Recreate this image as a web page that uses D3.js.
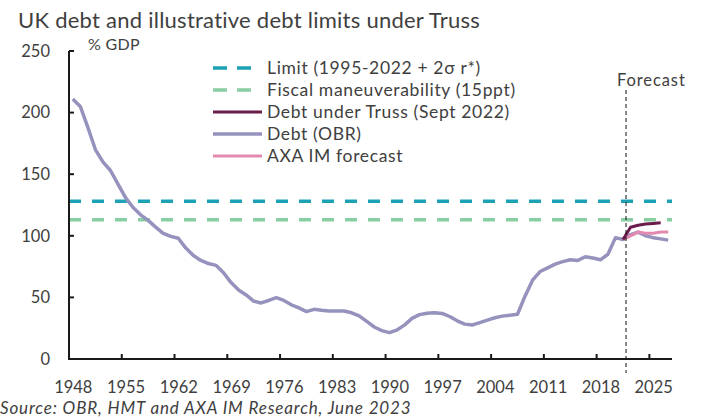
<!DOCTYPE html>
<html>
<head>
<meta charset="utf-8">
<script src="https://cdn.jsdelivr.net/npm/d3@7"></script>
<style>
  html, body { margin: 0; padding: 0; background: #fff; }
  svg { display: block; }
  text { font-family: Lato, "Noto Sans", sans-serif; fill: #404040; }
</style>
</head>
<body>
<svg id="chart" width="702" height="418"></svg>
<script>
// ---------------- data ----------------
const years = [1948,1949,1950,1951,1952,1953,1954,1955,1956,1957,1958,1959,1960,1961,1962,1963,1964,1965,1966,1967,
  1968,1969,1970,1971,1972,1973,1974,1975,1976,1977,1978,1979,1980,1981,1982,1983,1984,1985,1986,1987,
  1988,1989,1990,1991,1992,1993,1994,1995,1996,1997,1998,1999,2000,2001,2002,2003,2004,2005,2006,2007,
  2008,2009,2010,2011,2012,2013,2014,2015,2016,2017,2018,2019,2020,2021,2022,2023,2024,2025,2026,2027];
const debtOBR = [211,205,188,170,160,153,142,131,123,117,112.5,107,102,99.5,98,90,84,80,77.5,76,
  70,62,56,52,47,45.5,47.5,49.8,47.5,44,41.5,38.5,40.3,39.5,39,39,39,37.5,35,30.5,
  26,23,21.4,23.5,27.5,33,36,37.2,37.6,37,34.5,31,28.3,27.6,29.5,31.5,33.5,34.8,35.6,36.3,
  51,64,71,74,77,79,80.5,80,83,82,80.5,85,98.5,97,101,103,100,98.5,97.5,96.5];
const trussYears = [2021,2022,2023,2024,2025,2026];
const debtTruss  = [97,107,108.5,109.5,110,110.5];
const axaYears = [2021,2022,2023,2024,2025,2026,2027];
const axaForecast = [97,100,103,102,102,103,103];
const limitValue = 128;       // Limit (1995-2022 + 2σ r*)
const fiscalValue = 113;      // Fiscal maneuverability (15ppt)
const forecastStart = 2021.4;
const yTicks = [0,50,100,150,200,250];
const xLabelYears = [1948,1955,1962,1969,1976,1983,1990,1997,2004,2011,2018,2025];
const xTickBounds = [1954.5,1961.5,1968.5,1975.5,1982.5,1989.5,1996.5,2003.5,2010.5,2017.5,2024.5];

const titleText = "UK debt and illustrative debt limits under Truss";
const unitText = "% GDP";
const sourceText = "Source: OBR, HMT and AXA IM Research, June 2023";
const forecastText = "Forecast";

const legendItems = [
  {label: "Limit (1995-2022 + 2σ r*)", color: "#1ba3b5", dash: "12,11", width: 3.5},
  {label: "Fiscal maneuverability (15ppt)", color: "#88cea2", dash: "12,11", width: 3.5},
  {label: "Debt under Truss (Sept 2022)", color: "#6b1c4a", dash: null, width: 3},
  {label: "Debt (OBR)", color: "#9692be", dash: null, width: 3.5},
  {label: "AXA IM forecast", color: "#e389b0", dash: null, width: 3}
];

// ---------------- layout ----------------
const svg = d3.select("#chart");
const plotL = 69, plotR = 672, plotT = 51, plotB = 359;
const x = d3.scaleLinear().domain([1947.5, 2027.5]).range([plotL, plotR]);
const y = d3.scaleLinear().domain([0, 250]).range([plotB, plotT]);

// title
svg.append("text").attr("x", 18).attr("y", 28)
  .style("font-size", "22px").style("letter-spacing", "0.25px").text(titleText);

// horizontal limit lines
[[limitValue, legendItems[0]], [fiscalValue, legendItems[1]]].forEach(([v, it]) => {
  svg.append("line")
    .attr("x1", x(1947.5)).attr("x2", x(2027.5))
    .attr("y1", y(v)).attr("y2", y(v))
    .attr("stroke", it.color).attr("stroke-width", it.width)
    .attr("stroke-dasharray", it.dash);
});

// lines
const line = d3.line().x(d => x(d[0])).y(d => y(d[1])).curve(d3.curveLinear);
svg.append("path").datum(years.map((yr, i) => [yr, debtOBR[i]]))
  .attr("d", line).attr("fill", "none")
  .attr("stroke", legendItems[3].color).attr("stroke-width", legendItems[3].width)
  .attr("stroke-linejoin", "round");
svg.append("path").datum(axaYears.map((yr, i) => [yr, axaForecast[i]]))
  .attr("d", line).attr("fill", "none")
  .attr("stroke", legendItems[4].color).attr("stroke-width", legendItems[4].width)
  .attr("stroke-linejoin", "round");
svg.append("path").datum(trussYears.map((yr, i) => [yr, debtTruss[i]]))
  .attr("d", line).attr("fill", "none")
  .attr("stroke", legendItems[2].color).attr("stroke-width", legendItems[2].width)
  .attr("stroke-linejoin", "round");

// axes
const yAxis = d3.axisLeft(y).tickValues(yTicks).tickSize(0).tickPadding(19);
const gy = svg.append("g").attr("transform", `translate(${plotL},0)`).call(yAxis);
gy.select(".domain").remove();
gy.selectAll("text").style("font-size", "16.5px").style("font-family", "Lato, sans-serif").attr("fill", "#404040");

const xAxis = d3.axisBottom(x).tickValues(xLabelYears).tickSize(0).tickPadding(22).tickFormat(d3.format("d"));
const gx = svg.append("g").attr("transform", `translate(0,${plotB})`).call(xAxis);
gx.select(".domain").remove();
gx.selectAll("text").style("font-size", "16.5px").style("font-family", "Lato, sans-serif").attr("fill", "#404040");

// inward ticks
svg.append("g").selectAll("line").data(yTicks).join("line")
  .attr("x1", plotL).attr("x2", plotL + 5)
  .attr("y1", d => y(d)).attr("y2", d => y(d))
  .attr("stroke", "#1a1a1a").attr("stroke-width", 2);
svg.append("g").selectAll("line").data(xTickBounds).join("line")
  .attr("x1", d => x(d)).attr("x2", d => x(d))
  .attr("y1", plotB).attr("y2", plotB - 5)
  .attr("stroke", "#1a1a1a").attr("stroke-width", 2);

// axis lines
svg.append("line").attr("x1", plotL).attr("x2", plotL).attr("y1", y(250)).attr("y2", plotB + 1)
  .attr("stroke", "#1a1a1a").attr("stroke-width", 2);
svg.append("line").attr("x1", plotL).attr("x2", plotR).attr("y1", plotB).attr("y2", plotB)
  .attr("stroke", "#1a1a1a").attr("stroke-width", 2);

// forecast marker
svg.append("line").attr("x1", x(forecastStart)).attr("x2", x(forecastStart))
  .attr("y1", 90).attr("y2", plotB + 14)
  .attr("stroke", "#111").attr("stroke-width", 1).attr("stroke-dasharray", "4,3");
svg.append("text").attr("x", x(forecastStart) - 9).attr("y", 86)
  .style("font-size", "16.5px").style("letter-spacing", "0.9px").text(forecastText);

// unit
svg.append("text").attr("x", 88).attr("y", 50).style("font-size", "16px")
  .style("letter-spacing", "0.3px").text(unitText);

// legend
const lg = svg.append("g").attr("transform", "translate(213,68)");
legendItems.forEach((it, i) => {
  const g = lg.append("g").attr("transform", `translate(0,${i * 22})`);
  g.append("line").attr("x1", 0).attr("x2", it.dash ? 42 : 49).attr("y1", 0).attr("y2", 0)
    .attr("stroke", it.color).attr("stroke-width", it.width)
    .attr("stroke-dasharray", it.dash ? "14,10" : null);
  g.append("text").attr("x", 54).attr("y", 6).style("font-size", "17.5px")
    .style("letter-spacing", "0.65px").text(it.label);
});

// source
svg.append("text").attr("x", 0).attr("y", 414).style("font-size", "17px")
  .style("font-style", "italic").style("letter-spacing", "0.85px").text(sourceText);
</script>
</body>
</html>
